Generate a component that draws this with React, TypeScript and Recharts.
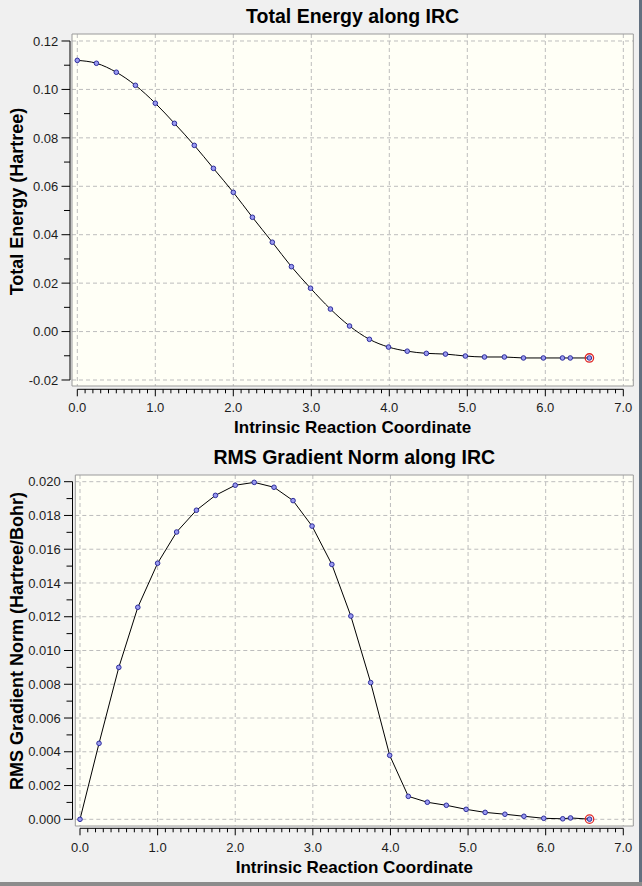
import React from 'react';
import {
  ComposedChart,
  Line,
  XAxis,
  YAxis,
  CartesianGrid,
  ReferenceArea,
  ReferenceLine,
  ReferenceDot,
  Label,
} from 'recharts';

// ---------- data ----------
const ircCoord = [
  0, 0.245, 0.5, 0.745, 1.0, 1.245, 1.5, 1.745, 2.0, 2.245, 2.5, 2.745, 2.99, 3.245,
  3.49, 3.745, 3.99, 4.23, 4.475, 4.72, 4.975, 5.22, 5.475, 5.72, 5.975, 6.22, 6.32, 6.565,
];
const totalEnergy = [
  0.112, 0.1108, 0.1071, 0.1017, 0.0943, 0.086, 0.0769, 0.0674, 0.0575, 0.0472, 0.0369,
  0.0268, 0.0179, 0.0093, 0.0023, -0.0032, -0.0064, -0.0081, -0.009, -0.0093, -0.0101,
  -0.0105, -0.0105, -0.0109, -0.0109, -0.0109, -0.0109, -0.0109,
];
const rmsGradient = [
  0.0, 0.0045, 0.009, 0.01256, 0.01517, 0.01702, 0.01831, 0.01919, 0.01979, 0.01996,
  0.01967, 0.01888, 0.01737, 0.0151, 0.01204, 0.0081, 0.00379, 0.00136, 0.00101, 0.00083,
  0.00059, 0.00041, 0.0003, 0.00018, 0.00006, 0.00003, 0.00008, 0.00001,
];

const xMajorTicks = [0, 1, 2, 3, 4, 5, 6, 7];
const xMinorTicks = [
  0.1, 0.2, 0.3, 0.4, 0.5, 0.6, 0.7, 0.8, 0.9, 1.1, 1.2, 1.3, 1.4, 1.5, 1.6, 1.7, 1.8, 1.9,
  2.1, 2.2, 2.3, 2.4, 2.5, 2.6, 2.7, 2.8, 2.9, 3.1, 3.2, 3.3, 3.4, 3.5, 3.6, 3.7, 3.8, 3.9,
  4.1, 4.2, 4.3, 4.4, 4.5, 4.6, 4.7, 4.8, 4.9, 5.1, 5.2, 5.3, 5.4, 5.5, 5.6, 5.7, 5.8, 5.9,
  6.1, 6.2, 6.3, 6.4, 6.5, 6.6, 6.7, 6.8, 6.9,
];
const energyMajorTicks = [-0.02, 0, 0.02, 0.04, 0.06, 0.08, 0.1, 0.12];
const energyMinorTicks = [-0.01, 0.01, 0.03, 0.05, 0.07, 0.09, 0.11];
const gradientMajorTicks = [0, 0.002, 0.004, 0.006, 0.008, 0.01, 0.012, 0.014, 0.016, 0.018, 0.02];
const gradientMinorTicks = [
  0.001, 0.003, 0.005, 0.007, 0.009, 0.011, 0.013, 0.015, 0.017, 0.019,
];

// ---------- style ----------
const W = 642;
const FONT = "'Liberation Sans', Arial, Helvetica, sans-serif";
const TICK_COLOR = '#1c1c1c';

type PanelCfg = {
  top: number;
  height: number;
  marginTop: number;
  marginRight: number;
  yAxisWidth: number;
  xAxisHeight: number;
  title: string;
  xLabel: string;
  yLabel: string;
  values: number[];
  curve: 'monotone' | 'linear';
  xDomain: [number, number];
  yDomain: [number, number];
  yMajor: number[];
  yMinor: number[];
  yDigits: number;
  xGap: number;
  yGap: number;
  titleBaseline: number;
  yLabelX: number;
  yLabelShift: number;
  yTickLabelOffset: number;
};

const isMajor = (v: number, majors: number[]) => majors.some((m) => Math.abs(m - v) < 1e-9);

function Panel({ cfg }: { cfg: PanelCfg }) {
  const data = ircCoord.map((x, i) => ({ x, y: cfg.values[i] }));
  const plotLeft = cfg.yAxisWidth;
  const plotW = W - cfg.yAxisWidth - cfg.marginRight;
  const plotH = cfg.height - cfg.marginTop - cfg.xAxisHeight;
  const plotBottom = cfg.marginTop + plotH;
  const xPerPx = (cfg.xDomain[1] - cfg.xDomain[0]) / plotW;
  const yPerPx = (cfg.yDomain[1] - cfg.yDomain[0]) / plotH;
  const xAxisLineY = cfg.yDomain[0] - cfg.xGap * yPerPx;
  const yAxisLineX = cfg.xDomain[0] - cfg.yGap * xPerPx;
  const yTicks = [...cfg.yMajor, ...cfg.yMinor].sort((a, b) => a - b);
  const xTicks = [...xMajorTicks, ...xMinorTicks].sort((a, b) => a - b);
  const last = data[data.length - 1];

  const renderXTick = (p: any) => {
    const v = p.payload.value;
    const major = isMajor(v, xMajorTicks);
    const y0 = p.y + cfg.xGap;
    return (
      <g>
        <line x1={p.x} x2={p.x} y1={y0} y2={y0 + (major ? 7 : 4)} stroke="#000" strokeWidth={1} />
        {major && (
          <text
            x={p.x}
            y={p.y + 26.3}
            textAnchor="middle"
            fontFamily={FONT}
            fontSize={13}
            fill={TICK_COLOR}
          >
            {v.toFixed(1)}
          </text>
        )}
      </g>
    );
  };

  const renderYTick = (p: any) => {
    const v = p.payload.value;
    const major = isMajor(v, cfg.yMajor);
    const x0 = p.x - cfg.yGap;
    return (
      <g>
        <line x1={x0} x2={x0 - (major ? 8.5 : 6)} y1={p.y} y2={p.y} stroke="#000" strokeWidth={1} />
        {major && (
          <text
            x={p.x - cfg.yTickLabelOffset}
            y={p.y}
            dy="0.36em"
            textAnchor="end"
            fontFamily={FONT}
            fontSize={13}
            fill={TICK_COLOR}
          >
            {v.toFixed(cfg.yDigits)}
          </text>
        )}
      </g>
    );
  };

  const xLabelContent = () => (
    <text
      x={plotLeft + plotW / 2}
      y={plotBottom + 47.3}
      textAnchor="middle"
      fontFamily={FONT}
      fontWeight="bold"
      fontSize={17}
      fill="#000"
    >
      {cfg.xLabel}
    </text>
  );

  const yLabelContent = () => {
    const cx = cfg.yLabelX;
    const cy = cfg.marginTop + plotH / 2 + cfg.yLabelShift;
    return (
      <text
        x={cx}
        y={cy}
        transform={`rotate(-90 ${cx} ${cy})`}
        textAnchor="middle"
        fontFamily={FONT}
        fontWeight="bold"
        fontSize={18}
        fill="#000"
      >
        {cfg.yLabel}
      </text>
    );
  };

  return (
    <div style={{ position: 'absolute', left: 0, top: cfg.top, width: W, height: cfg.height }}>
      <ComposedChart
        width={W}
        height={cfg.height}
        data={data}
        margin={{ top: cfg.marginTop, right: cfg.marginRight, bottom: 0, left: 0 }}
      >
        <CartesianGrid
          fill="#fffff6"
          stroke="#bdbdbd"
          strokeDasharray="4 3"
          verticalValues={xMajorTicks}
          horizontalValues={cfg.yMajor}
        />
        <ReferenceArea
          x1={cfg.xDomain[0]}
          x2={cfg.xDomain[1]}
          y1={cfg.yDomain[0]}
          y2={cfg.yDomain[1]}
          fill="none"
          fillOpacity={0}
          stroke="#9a9a9a"
          strokeWidth={1}
          ifOverflow="visible"
        />
        <XAxis
          dataKey="x"
          type="number"
          domain={cfg.xDomain}
          allowDataOverflow
          ticks={xTicks}
          interval={0}
          height={cfg.xAxisHeight}
          tickSize={0}
          tickMargin={0}
          axisLine={false}
          tickLine={false}
          tick={renderXTick}
        >
          <Label content={xLabelContent} />
        </XAxis>
        <YAxis
          type="number"
          domain={cfg.yDomain}
          allowDataOverflow
          ticks={yTicks}
          interval={0}
          width={cfg.yAxisWidth}
          tickSize={0}
          tickMargin={0}
          axisLine={false}
          tickLine={false}
          tick={renderYTick}
        >
          <Label content={yLabelContent} />
        </YAxis>
        <ReferenceLine
          segment={[
            { x: xMajorTicks[0], y: xAxisLineY },
            { x: xMajorTicks[xMajorTicks.length - 1], y: xAxisLineY },
          ]}
          stroke="#000"
          strokeWidth={1}
          ifOverflow="visible"
        />
        <ReferenceLine
          segment={[
            { x: yAxisLineX, y: cfg.yMajor[0] },
            { x: yAxisLineX, y: cfg.yMajor[cfg.yMajor.length - 1] },
          ]}
          stroke="#000"
          strokeWidth={1}
          ifOverflow="visible"
        />
        <Line
          dataKey="y"
          type={cfg.curve}
          stroke="#000"
          strokeWidth={1}
          dot={{ r: 2.3, fill: '#9a9af0', stroke: '#2e2e9c', strokeWidth: 1 }}
          activeDot={false}
          isAnimationActive={false}
        />
        <ReferenceDot
          x={last.x}
          y={last.y}
          r={4.2}
          fill="none"
          stroke="#e02626"
          strokeWidth={1.3}
          ifOverflow="visible"
        />
      </ComposedChart>
      <svg
        width={W}
        height={cfg.height}
        style={{ position: 'absolute', left: 0, top: 0, pointerEvents: 'none' }}
      >
        <text
          x={plotLeft + plotW / 2}
          y={cfg.titleBaseline}
          textAnchor="middle"
          fontFamily={FONT}
          fontWeight="bold"
          fontSize={19.5}
          fill="#000"
        >
          {cfg.title}
        </text>
      </svg>
    </div>
  );
}

const energyPanel: PanelCfg = {
  top: 0,
  height: 440,
  marginTop: 34,
  marginRight: 8.7,
  yAxisWidth: 72,
  xAxisHeight: 54,
  title: 'Total Energy along IRC',
  xLabel: 'Intrinsic Reaction Coordinate',
  yLabel: 'Total Energy (Hartree)',
  values: totalEnergy,
  curve: 'monotone',
  xDomain: [-0.068, 7.128],
  yDomain: [-0.02248, 0.12289],
  yMajor: energyMajorTicks,
  yMinor: energyMinorTicks,
  yDigits: 2,
  xGap: 3.3,
  yGap: 2,
  titleBaseline: 22.7,
  yLabelX: 22.5,
  yLabelShift: -8.5,
  yTickLabelOffset: 13.7,
};

const gradientPanel: PanelCfg = {
  top: 440,
  height: 446,
  marginTop: 35,
  marginRight: 8.7,
  yAxisWidth: 75.3,
  xAxisHeight: 60,
  title: 'RMS Gradient Norm along IRC',
  xLabel: 'Intrinsic Reaction Coordinate',
  yLabel: 'RMS Gradient Norm (Hartree/Bohr)',
  values: rmsGradient,
  curve: 'linear',
  xDomain: [-0.0606, 7.129],
  yDomain: [-0.000397, 0.020397],
  yMajor: gradientMajorTicks,
  yMinor: gradientMinorTicks,
  yDigits: 3,
  xGap: 2.3,
  yGap: 2.8,
  titleBaseline: 24,
  yLabelX: 22.7,
  yLabelShift: -9.5,
  yTickLabelOffset: 14.6,
};

export default function App() {
  return (
    <div
      style={{
        position: 'absolute',
        left: 0,
        top: 0,
        width: W,
        height: 886,
        background: '#f0f0f0',
        overflow: 'hidden',
      }}
    >
      <Panel cfg={energyPanel} />
      <Panel cfg={gradientPanel} />
      <div style={{ position: 'absolute', left: 639, top: 0, width: 3, height: 886, background: '#627080' }} />
      <div style={{ position: 'absolute', left: 0, top: 882, width: 642, height: 4, background: '#8c8c8c' }} />
    </div>
  );
}
